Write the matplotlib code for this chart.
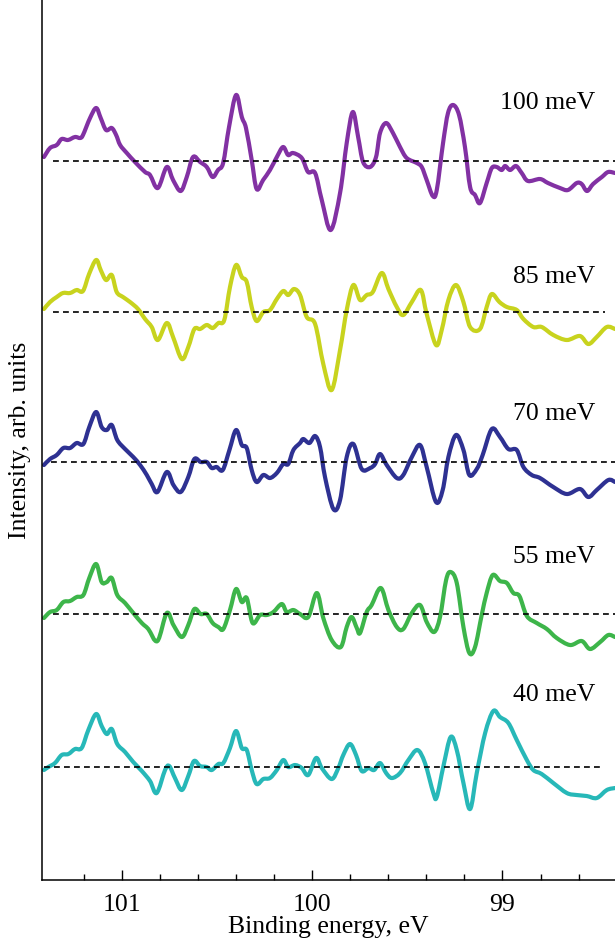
import numpy as np
import matplotlib.pyplot as plt
from matplotlib.path import Path
from matplotlib.patches import PathPatch

plt.rcParams['font.family'] = ['Liberation Serif', 'DejaVu Serif']

# excitation widths and vertical offsets of the stacked spectra
labels = ['100 meV', '85 meV', '70 meV', '55 meV', '40 meV']
offsets = [7.19, 5.68, 4.18, 2.66, 1.13]

e100 = [101.408, 101.376, 101.341, 101.315, 101.282, 101.245, 101.218, 101.203, 101.166, 101.134,
        101.110, 101.082, 101.052, 101.029, 101.008, 100.973, 100.930, 100.877, 100.851, 100.810,
        100.763, 100.730, 100.690, 100.658, 100.625, 100.588, 100.553, 100.522, 100.494, 100.467,
        100.436, 100.399, 100.369, 100.347, 100.317, 100.291, 100.257, 100.221, 100.185, 100.152,
        100.126, 100.100, 100.054, 100.021, 99.984, 99.949, 99.902, 99.853, 99.818, 99.786,
        99.758, 99.732, 99.695, 99.664, 99.643, 99.611, 99.575, 99.538, 99.503, 99.450,
        99.424, 99.398, 99.366, 99.345, 99.312, 99.286, 99.259, 99.228, 99.197, 99.170,
        99.144, 99.118, 99.083, 99.056, 99.030, 99.004, 98.986, 98.960, 98.929, 98.899,
        98.866, 98.803, 98.761, 98.698, 98.656, 98.610, 98.584, 98.556, 98.524, 98.478,
        98.445, 98.409]
i100 = [0.04, 0.13, 0.16, 0.22, 0.21, 0.24, 0.23, 0.26, 0.43, 0.53,
        0.43, 0.31, 0.33, 0.26, 0.16, 0.08, -0.01, -0.11, -0.14, -0.27,
        -0.06, -0.19, -0.30, -0.16, 0.04, -0.01, -0.06, -0.16, -0.09, -0.02,
        0.34, 0.66, 0.44, 0.33, 0.01, -0.28, -0.19, -0.09, 0.04, 0.14,
        0.06, 0.08, 0.03, -0.11, -0.12, -0.39, -0.69, -0.32, 0.18, 0.49,
        0.24, -0.01, -0.06, 0.04, 0.28, 0.38, 0.28, 0.14, 0.03, -0.02,
        -0.06, -0.19, -0.35, -0.29, 0.18, 0.48, 0.56, 0.46, 0.14, -0.26,
        -0.34, -0.42, -0.22, -0.07, -0.06, -0.09, -0.05, -0.09, -0.05, -0.12,
        -0.20, -0.18, -0.22, -0.27, -0.29, -0.22, -0.23, -0.30, -0.23, -0.16,
        -0.11, -0.12]

e85 = [101.408, 101.376, 101.341, 101.308, 101.271, 101.236, 101.203, 101.171, 101.134, 101.110,
       101.082, 101.052, 101.026, 100.993, 100.956, 100.914, 100.877, 100.842, 100.810, 100.763,
       100.730, 100.684, 100.650, 100.618, 100.588, 100.553, 100.522, 100.492, 100.461, 100.431,
       100.399, 100.369, 100.343, 100.317, 100.291, 100.256, 100.221, 100.185, 100.151, 100.125,
       100.095, 100.063, 100.028, 99.984, 99.941, 99.897, 99.853, 99.818, 99.783, 99.748,
       99.713, 99.681, 99.634, 99.599, 99.555, 99.521, 99.476, 99.429, 99.398, 99.349,
       99.319, 99.284, 99.244, 99.205, 99.170, 99.118, 99.083, 99.056, 99.016, 98.977,
       98.925, 98.890, 98.838, 98.794, 98.733, 98.662, 98.593, 98.549, 98.505, 98.452,
       98.409]
i85 = [0.03, 0.10, 0.15, 0.19, 0.19, 0.22, 0.21, 0.38, 0.52, 0.42,
       0.32, 0.37, 0.20, 0.15, 0.10, 0.03, -0.07, -0.15, -0.28, -0.11,
       -0.25, -0.47, -0.35, -0.17, -0.17, -0.13, -0.16, -0.11, -0.08, 0.25,
       0.47, 0.35, 0.30, 0.05, -0.09, 0.00, 0.02, 0.13, 0.21, 0.17,
       0.23, 0.17, -0.05, -0.12, -0.52, -0.78, -0.38, 0.02, 0.27, 0.12,
       0.17, 0.20, 0.39, 0.23, 0.05, -0.03, 0.10, 0.22, -0.02, -0.33,
       -0.18, 0.12, 0.27, 0.10, -0.15, -0.17, 0.05, 0.18, 0.10, 0.05,
       0.02, -0.07, -0.15, -0.15, -0.23, -0.28, -0.24, -0.32, -0.25, -0.15,
       -0.17]

e70 = [101.408, 101.376, 101.341, 101.306, 101.271, 101.236, 101.201, 101.170, 101.134, 101.105,
       101.078, 101.052, 101.023, 100.982, 100.939, 100.903, 100.868, 100.842, 100.812, 100.763,
       100.728, 100.690, 100.650, 100.618, 100.585, 100.553, 100.527, 100.501, 100.469, 100.434,
       100.399, 100.369, 100.343, 100.317, 100.291, 100.256, 100.221, 100.185, 100.151, 100.125,
       100.098, 100.063, 100.046, 100.014, 99.984, 99.958, 99.932, 99.888, 99.853, 99.818,
       99.783, 99.739, 99.695, 99.669, 99.643, 99.608, 99.555, 99.521, 99.476, 99.433,
       99.398, 99.349, 99.314, 99.284, 99.244, 99.205, 99.174, 99.135, 99.104, 99.056,
       99.013, 98.969, 98.925, 98.890, 98.846, 98.803, 98.733, 98.662, 98.593, 98.549,
       98.505, 98.444, 98.409]
i70 = [-0.03, 0.03, 0.07, 0.14, 0.14, 0.19, 0.18, 0.35, 0.50, 0.35,
       0.32, 0.37, 0.22, 0.13, 0.05, -0.03, -0.13, -0.22, -0.30, -0.10,
       -0.23, -0.30, -0.15, 0.03, 0.00, 0.00, -0.06, -0.05, -0.08, 0.12,
       0.32, 0.17, 0.14, -0.08, -0.20, -0.13, -0.16, -0.11, -0.02, -0.02,
       0.12, 0.19, 0.23, 0.19, 0.26, 0.15, -0.15, -0.47, -0.38, 0.05,
       0.18, -0.07, -0.06, -0.02, 0.08, -0.03, -0.16, -0.13, 0.05, 0.17,
       -0.05, -0.40, -0.28, 0.05, 0.27, 0.12, -0.13, -0.07, 0.07, 0.33,
       0.25, 0.13, 0.12, -0.05, -0.13, -0.16, -0.25, -0.32, -0.27, -0.35,
       -0.28, -0.18, -0.20]

e55 = [101.408, 101.376, 101.341, 101.306, 101.271, 101.236, 101.201, 101.170, 101.134, 101.105,
       101.078, 101.052, 101.023, 100.982, 100.939, 100.894, 100.860, 100.812, 100.763, 100.728,
       100.684, 100.650, 100.618, 100.585, 100.553, 100.522, 100.492, 100.466, 100.431, 100.399,
       100.369, 100.343, 100.312, 100.273, 100.238, 100.203, 100.159, 100.133, 100.098, 100.063,
       100.020, 99.975, 99.941, 99.897, 99.849, 99.818, 99.792, 99.765, 99.748, 99.713,
       99.687, 99.639, 99.599, 99.555, 99.521, 99.476, 99.433, 99.398, 99.359, 99.328,
       99.296, 99.272, 99.240, 99.205, 99.174, 99.144, 99.109, 99.083, 99.051, 99.013,
       98.977, 98.943, 98.911, 98.872, 98.820, 98.767, 98.715, 98.645, 98.584, 98.540,
       98.487, 98.444, 98.409]
i55 = [-0.04, 0.02, 0.04, 0.12, 0.13, 0.17, 0.19, 0.36, 0.50, 0.32,
       0.32, 0.36, 0.19, 0.11, 0.01, -0.09, -0.15, -0.27, 0.01, -0.11,
       -0.23, -0.11, 0.05, 0.00, 0.00, -0.09, -0.13, -0.15, 0.04, 0.25,
       0.12, 0.16, -0.09, -0.01, -0.01, 0.02, 0.10, 0.02, 0.04, 0.00,
       -0.03, 0.21, -0.04, -0.26, -0.33, -0.13, -0.03, -0.14, -0.19, 0.02,
       0.09, 0.26, 0.04, -0.13, -0.15, 0.01, 0.09, -0.08, -0.18, -0.03,
       0.34, 0.42, 0.31, -0.13, -0.39, -0.33, -0.01, 0.21, 0.39, 0.33,
       0.31, 0.21, 0.18, -0.02, -0.09, -0.15, -0.24, -0.31, -0.27, -0.35,
       -0.28, -0.21, -0.23]

e40 = [101.408, 101.385, 101.350, 101.315, 101.280, 101.245, 101.210, 101.175, 101.134, 101.105,
       101.078, 101.052, 101.023, 100.982, 100.939, 100.894, 100.851, 100.816, 100.772, 100.750,
       100.720, 100.684, 100.650, 100.620, 100.588, 100.553, 100.527, 100.492, 100.466, 100.431,
       100.399, 100.369, 100.343, 100.317, 100.291, 100.256, 100.221, 100.185, 100.151, 100.125,
       100.089, 100.054, 100.020, 99.979, 99.949, 99.897, 99.862, 99.836, 99.801, 99.769,
       99.739, 99.704, 99.674, 99.643, 99.611, 99.581, 99.538, 99.494, 99.447, 99.407,
       99.363, 99.345, 99.310, 99.272, 99.240, 99.205, 99.170, 99.135, 99.091, 99.048,
       99.013, 98.969, 98.925, 98.872, 98.838, 98.794, 98.733, 98.662, 98.610, 98.557,
       98.505, 98.452, 98.409]
i40 = [-0.03, 0.00, 0.04, 0.12, 0.13, 0.18, 0.19, 0.37, 0.53, 0.41,
       0.33, 0.38, 0.23, 0.15, 0.05, -0.04, -0.14, -0.26, -0.03, 0.01,
       -0.11, -0.23, -0.09, 0.06, 0.01, 0.00, -0.03, 0.03, 0.04, 0.19,
       0.36, 0.19, 0.17, -0.03, -0.17, -0.12, -0.11, -0.03, 0.07, 0.00,
       0.02, -0.01, -0.08, 0.09, -0.01, -0.12, -0.01, 0.12, 0.23, 0.12,
       -0.04, -0.01, -0.03, 0.04, -0.06, -0.11, -0.06, 0.07, 0.17, 0.04,
       -0.26, -0.30, 0.01, 0.30, 0.17, -0.16, -0.42, -0.06, 0.34, 0.56,
       0.50, 0.44, 0.27, 0.07, -0.03, -0.07, -0.16, -0.26, -0.28, -0.29,
       -0.31, -0.23, -0.21]

energies = [e100, e85, e70, e55, e40]
intens = [i100, i85, i70, i55, i40]
colors = ['#8231a3', '#c8d31e', '#2e3192', '#3db54a', '#27b8b8']
# dashed zero lines (start, end) in eV
zero_start = [101.36, 101.36, 101.37, 101.36, 101.41]
zero_end = [98.409, 98.46, 98.409, 98.409, 98.47]
label_dy = [0.58, 0.35, 0.48, 0.57, 0.72]


def smooth_path(x, y):
    # cubic Bezier through the measured points (Catmull-Rom tangents)
    p = np.column_stack([x, y])
    n = len(p)
    verts = [p[0]]
    codes = [Path.MOVETO]
    for k in range(n - 1):
        p0 = p[k - 1] if k > 0 else p[k]
        p3 = p[k + 2] if k + 2 < n else p[k + 1]
        verts += [p[k] + (p[k + 1] - p0) / 6, p[k + 1] - (p3 - p[k]) / 6, p[k + 1]]
        codes += [Path.CURVE4] * 3
    return Path(verts, codes)


fig = plt.figure(figsize=(6.15, 9.4), dpi=100)
ax = fig.add_axes([0.069, 0.0638, 0.931, 0.9362])

for e, y, off, c in zip(energies, intens, offsets, colors):
    path = smooth_path(np.array(e), np.array(y) + off)
    ax.add_patch(PathPatch(path, facecolor='none', edgecolor=c, lw=3.0,
                           joinstyle='round', capstyle='round', zorder=2))

for x0, x1, off in zip(zero_start, zero_end, offsets):
    ax.plot([x0, x1], [off, off], color='k', lw=1.2, ls=(0, (3.5, 2.5)), zorder=3)

for lab, off, dy in zip(labels, offsets, label_dy):
    ax.text(98.514, off + dy, lab, ha='right', va='center', fontsize=18.5)

ax.set_xlim(101.416, 98.409)
ax.set_ylim(0, 8.80)
ax.spines['top'].set_visible(False)
ax.spines['right'].set_visible(False)
ax.spines['left'].set_linewidth(1.1)
ax.spines['bottom'].set_linewidth(1.1)
ax.set_yticks([])
ax.set_xticks([101, 100, 99])
ax.set_xticklabels(['101', '100', '99'])
ax.set_xticks(np.arange(98.6, 101.3, 0.2), minor=True)
ax.tick_params(axis='x', which='major', direction='in', length=7, width=1, labelsize=18.5, pad=10)
ax.tick_params(axis='x', which='minor', direction='in', length=4.3, width=1)

ax.set_xlabel('Binding energy, eV', fontsize=18.5, labelpad=0)
ax.set_ylabel('Intensity, arb. units', fontsize=18.5, labelpad=8)

fig.savefig('out.png', dpi=100)
